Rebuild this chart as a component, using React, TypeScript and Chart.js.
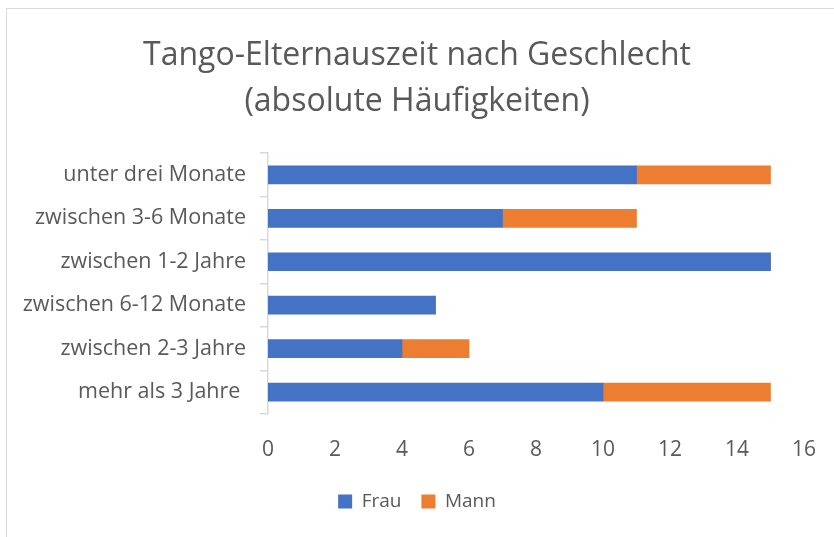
import React, { useEffect, useRef } from "react";
import { Chart, registerables } from "chart.js";

Chart.register(...registerables);

const categories = [
  "unter drei Monate",
  "zwischen 3-6 Monate",
  "zwischen 1-2 Jahre",
  "zwischen 6-12 Monate",
  "zwischen 2-3 Jahre",
  "mehr als 3 Jahre ",
];
const frau = [11, 7, 15, 5, 4, 10];
const mann = [4, 4, 0, 0, 2, 5];
const titleLines = ["Tango-Elternauszeit nach Geschlecht", "(absolute Häufigkeiten)"];

const FONT = "'Open Sans', 'Noto Sans', sans-serif";
const TEXT = "#595959";

export default function App() {
  const ref = useRef<HTMLCanvasElement>(null);
  useEffect(() => {
    if (!ref.current) return;
    const chart = new Chart(ref.current, {
      type: "bar",
      data: {
        labels: categories,
        datasets: [
          { label: "Frau", data: frau, backgroundColor: "#4472C4", barThickness: 18 },
          { label: "Mann", data: mann, backgroundColor: "#ED7D31", barThickness: 18 },
        ],
      },
      options: {
        indexAxis: "y",
        animation: false,
        responsive: true,
        maintainAspectRatio: false,
        layout: { padding: { left: 30, right: 30, top: 28, bottom: 16 } },
        plugins: {
          title: {
            display: true,
            text: titleLines,
            color: TEXT,
            font: { family: FONT, size: 32, weight: "normal", lineHeight: 1.44 },
            padding: { top: 5, bottom: 28 },
          },
          legend: {
            position: "bottom",
            labels: {
              color: TEXT,
              font: { family: FONT, size: 19 },
              boxWidth: 14,
              boxHeight: 14,
              padding: 20,
            },
          },
          tooltip: { enabled: false },
        },
        scales: {
          x: {
            stacked: true,
            min: 0,
            max: 16,
            ticks: { stepSize: 2, color: TEXT, font: { family: FONT, size: 21 }, padding: 24 },
            grid: { display: false, drawTicks: false },
            border: { display: false },
            afterFit: (scale: any) => {
              scale.height = scale.height - 15;
              scale.paddingLeft = 0;
              scale.paddingRight = 0;
            },
          },
          y: {
            stacked: true,
            ticks: { color: TEXT, font: { family: FONT, size: 21.5 }, padding: 14 },
            grid: {
              drawOnChartArea: false,
              drawTicks: true,
              tickLength: 8,
              color: "#d9d9d9",
              offset: true,
              lineWidth: 1.5,
            },
            border: { display: true, color: "#d9d9d9", width: 1.5 },
            afterFit: (scale: any) => {
              scale.width = 238;
              // let the category labels extend into the left padding without clipping
              scale._computeLabelArea = () => undefined;
            },
          },
        },
      },
    });
    return () => chart.destroy();
  }, []);
  return (
    <div style={{ position: "fixed", left: 0, top: 0, width: 834, height: 537, background: "#fff" }}>
      <div
        style={{
          position: "absolute",
          left: 6,
          top: 8,
          width: 900,
          height: 600,
          border: "1px solid #d9d9d9",
          boxSizing: "border-box",
        }}
      />
      <div style={{ position: "absolute", left: 0, top: 0, width: 834, height: 537 }}>
        <canvas ref={ref} />
      </div>
    </div>
  );
}
